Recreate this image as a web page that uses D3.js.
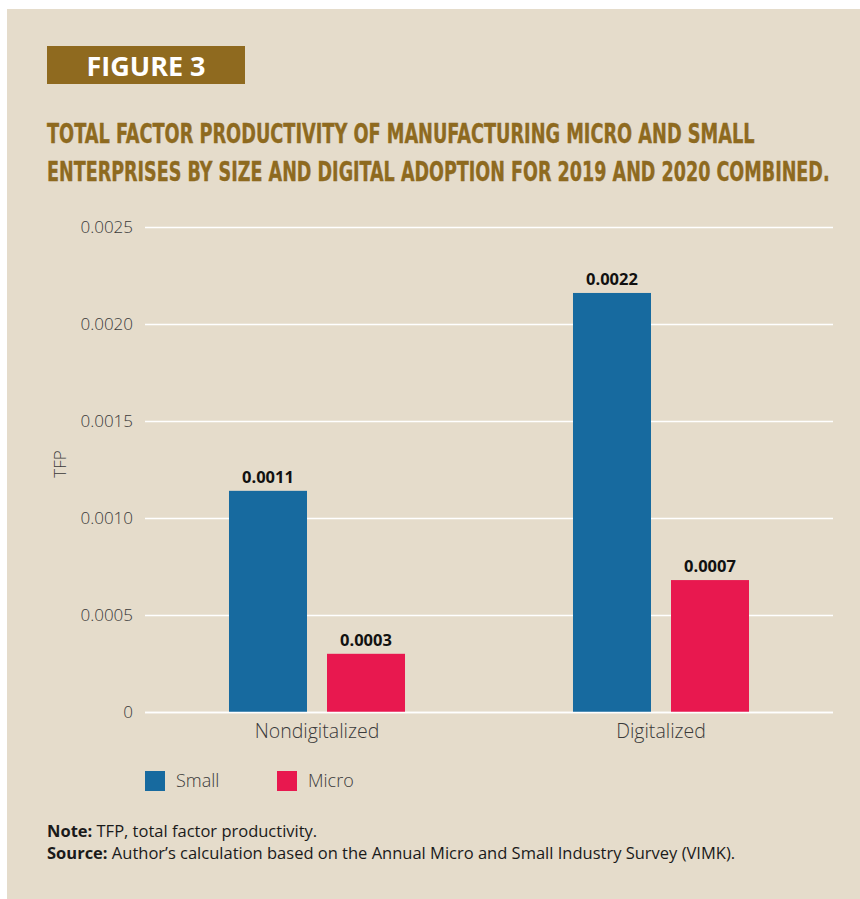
<!DOCTYPE html>
<html>
<head>
<meta charset="utf-8">
<script src="https://cdn.jsdelivr.net/npm/d3@7/dist/d3.min.js"></script>
<style>
  html, body { margin: 0; padding: 0; background: #ffffff; }
  svg { display: block; }
</style>
</head>
<body>
<svg id="chart" width="860" height="899"></svg>
<script>
// Chart data
const categories = ["Nondigitalized", "Digitalized"];
const seriesNames = ["Small", "Micro"];
const smallValues = [0.00114, 0.00216];
const microValues = [0.0003, 0.00068];
const yTicks = [0, 0.0005, 0.0010, 0.0015, 0.0020, 0.0025];

const colors = { Small: "#176a9f", Micro: "#e8184f" };
const bg = "#e5dccb";
const brown = "#8e6a1f";
const lightFont = "'Open Sans', 'Noto Sans', sans-serif";
const condFont = "'Liberation Sans Narrow', 'DejaVu Sans Condensed', sans-serif";

const rows = categories.map((c, i) => ({
  category: c,
  values: [
    { key: "Small", value: smallValues[i] },
    { key: "Micro", value: microValues[i] }
  ]
}));

const svg = d3.select("#chart");

// Panel background
svg.append("rect").attr("x", 7).attr("y", 9).attr("width", 853).attr("height", 890).attr("fill", bg);

// Figure tag
svg.append("rect").attr("x", 47).attr("y", 46).attr("width", 198).attr("height", 38).attr("fill", "#8f6a1f");
svg.append("text").attr("x", 146).attr("y", 76).attr("text-anchor", "middle")
  .attr("font-family", "'Open Sans', sans-serif").attr("font-weight", 700)
  .attr("font-size", 27).attr("fill", "#ffffff").text("FIGURE 3");

// Title, each line stretched horizontally to its set width
const titleLines = [
  "TOTAL FACTOR PRODUCTIVITY OF MANUFACTURING MICRO AND SMALL",
  "ENTERPRISES BY SIZE AND DIGITAL ADOPTION FOR 2019 AND 2020 COMBINED."
];
const titleWidths = [708, 783];
titleLines.forEach((t, i) => {
  const g = svg.append("g");
  const txt = g.append("text").attr("x", 0).attr("y", 0)
    .attr("font-family", condFont).attr("font-weight", 700)
    .attr("font-size", 27).attr("fill", brown)
    .attr("stroke", brown).attr("stroke-width", 0.4)
    .text(t);
  const w = txt.node().getComputedTextLength();
  g.attr("transform", `translate(47,${143 + i * 38}) scale(${titleWidths[i] / w},1)`);
});

// Scales
const plot = { left: 145, right: 833, top: 227, bottom: 712 };
const y = d3.scaleLinear().domain([0, 0.0025]).range([plot.bottom, plot.top]);
const x0 = d3.scaleBand().domain(categories).range([plot.left, plot.right]).paddingInner(0).paddingOuter(0);
const x1 = d3.scaleBand().domain(seriesNames).range([0, x0.bandwidth()])
  .paddingInner(20 / 98).paddingOuter(0.857);

// Gridlines
const yAxis = d3.axisLeft(y).tickValues(yTicks)
  .tickFormat(d => d === 0 ? "0" : d3.format(".4f")(d))
  .tickSize(-(plot.right - plot.left)).tickPadding(12);
const gy = svg.append("g").attr("transform", `translate(${plot.left},0)`).call(yAxis);
gy.select(".domain").remove();
gy.selectAll(".tick line").attr("stroke", "#ffffff").attr("stroke-width", 1.5);
gy.selectAll(".tick text").attr("font-family", lightFont).attr("font-weight", 300)
  .attr("font-size", 17).attr("fill", "#3a3a3a");

// Bars
const groups = svg.append("g").selectAll("g").data(rows).join("g")
  .attr("transform", d => `translate(${x0(d.category)},0)`);
groups.selectAll("rect").data(d => d.values).join("rect")
  .attr("x", d => x1(d.key)).attr("width", x1.bandwidth())
  .attr("y", d => y(d.value)).attr("height", d => y(0) - y(d.value))
  .attr("fill", d => colors[d.key]);
groups.selectAll("text.val").data(d => d.values).join("text")
  .attr("class", "val")
  .attr("x", d => x1(d.key) + x1.bandwidth() / 2)
  .attr("y", d => y(d.value) - 8)
  .attr("text-anchor", "middle")
  .attr("font-family", "'Open Sans', sans-serif").attr("font-weight", 700)
  .attr("font-size", 16.5).attr("fill", "#111111")
  .text(d => d.value.toFixed(4));

// Category axis
const xAxis = d3.axisBottom(x0).tickSize(0).tickPadding(12);
const gx = svg.append("g").attr("transform", `translate(0,${plot.bottom})`).call(xAxis);
gx.select(".domain").remove();
gx.selectAll(".tick text").attr("font-family", lightFont).attr("font-weight", 300)
  .attr("font-size", 19.5).attr("fill", "#3a3a3a");
svg.append("line").attr("x1", plot.left).attr("x2", plot.right)
  .attr("y1", plot.bottom + 0.5).attr("y2", plot.bottom + 0.5)
  .attr("stroke", "#ffffff").attr("stroke-width", 1.5);

// Y axis title
svg.append("text").attr("transform", "translate(66,464) rotate(-90)")
  .attr("text-anchor", "middle").attr("font-family", lightFont).attr("font-weight", 300)
  .attr("font-size", 17).attr("fill", "#3a3a3a").text("TFP");

// Legend
const legendX = [145, 277];
seriesNames.forEach((s, i) => {
  svg.append("rect").attr("x", legendX[i]).attr("y", 771).attr("width", 20).attr("height", 20).attr("fill", colors[s]);
  svg.append("text").attr("x", legendX[i] + 31).attr("y", 787)
    .attr("font-family", lightFont).attr("font-weight", 300)
    .attr("font-size", 18).attr("fill", "#3a3a3a").text(s);
});

// Notes
const notes = [
  { label: "Note:", text: " TFP, total factor productivity." },
  { label: "Source:", text: " Author\u2019s calculation based on the Annual Micro and Small Industry Survey (VIMK)." }
];
notes.forEach((n, i) => {
  const t = svg.append("text").attr("x", 47).attr("y", 837 + i * 22)
    .attr("font-family", "'Open Sans', sans-serif").attr("font-size", 16.5).attr("fill", "#1a1a1a");
  t.append("tspan").attr("font-weight", 700).text(n.label);
  t.append("tspan").attr("font-weight", 400).text(n.text);
});
</script>
</body>
</html>
